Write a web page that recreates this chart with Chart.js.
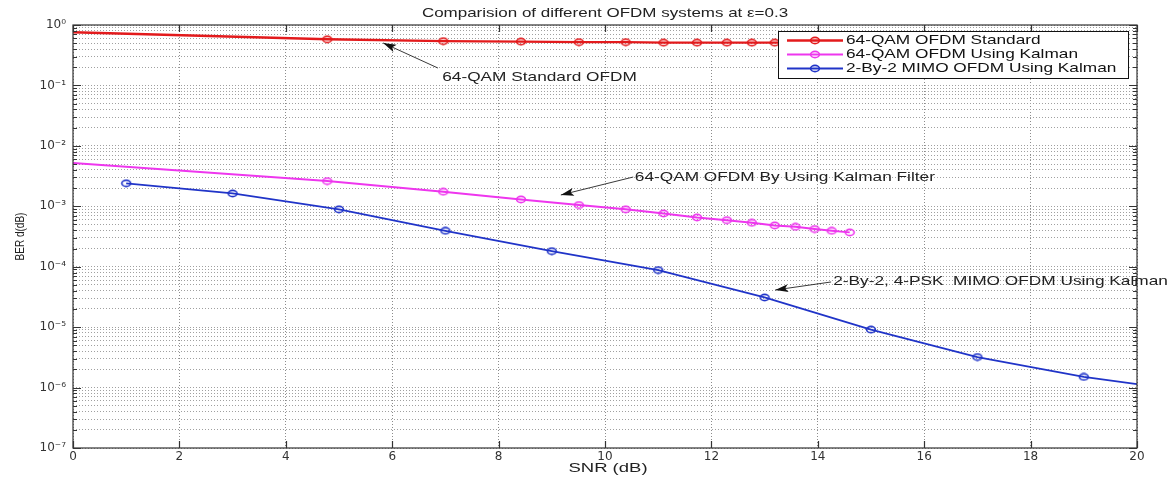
<!DOCTYPE html>
<html>
<head>
<meta charset="utf-8">
<script src="https://cdn.jsdelivr.net/npm/chart.js@4/dist/chart.umd.min.js"></script>
<style>
  html, body { margin: 0; padding: 0; background: #fff; }
  #wrap { width: 1175px; height: 478px; }
</style>
</head>
<body>
<div id="wrap"><canvas id="myChart" width="1175" height="478"></canvas></div>
<script>
// values
var snrKalman = [0, 4.78, 6.96, 8.42, 9.51, 10.39, 11.1, 11.73, 12.29, 12.76, 13.19, 13.58, 13.94, 14.26, 14.6];
var berStandard = [0.76, 0.58, 0.54, 0.53, 0.52, 0.52, 0.51, 0.51, 0.51, 0.51, 0.51, 0.51, 0.51, 0.51, 0.51];
var berKalman = [5.2e-3, 2.61e-3, 1.74e-3, 1.30e-3, 1.05e-3, 8.9e-4, 7.6e-4, 6.55e-4, 5.9e-4, 5.33e-4, 4.83e-4, 4.58e-4, 4.2e-4, 3.93e-4, 3.7e-4];
var snrMimo = [1, 3, 5, 7, 9, 11, 13, 15, 17, 19, 20];
var berMimo = [2.4e-3, 1.63e-3, 8.9e-4, 3.93e-4, 1.81e-4, 8.8e-5, 3.1e-5, 9.1e-6, 3.2e-6, 1.5e-6, 1.14e-6];

var seriesLabels = ['64-QAM OFDM Standard', '64-QAM OFDM Using Kalman', '2-By-2 MIMO OFDM Using Kalman'];
var xTicks = [0, 2, 4, 6, 8, 10, 12, 14, 16, 18, 20];
var yDecades = [-7, -6, -5, -4, -3, -2, -1, 0];

// text arrows: [text, headX, headY, tailX, tailY, textX, textY] in data units
var notes = [
  ['64-QAM Standard OFDM', 5.83, 0.504, 6.86, 0.194, 6.94, 0.133],
  ['64-QAM OFDM By Using Kalman Filter', 9.17, 1.54e-3, 10.53, 3.05e-3, 10.56, 2.94e-3],
  ['2-By-2, 4-PSK  MIMO OFDM Using Kalman', 13.2, 4.12e-5, 14.25, 5.59e-5, 14.29, 5.59e-5]
];

const SX = 1.37; // the picture is wider than tall, text looks stretched
const FONT = '"Liberation Sans", Arial, sans-serif';
const colors = ['#e31a1c', '#ee36ee', '#2034c8'];

const sup = {'0':'⁰','1':'¹','2':'²','3':'³','4':'⁴','5':'⁵','6':'⁶','7':'⁷','8':'⁸','9':'⁹','-':'⁻'};
const toSup = s => String(s).split('').map(c => sup[c]).join('');

var yTickValues = [];
yDecades.forEach(e => {
  for (let k = 1; k <= 9; k++) {
    if (e === 0 && k > 1) break;
    yTickValues.push(k * Math.pow(10, e));
  }
});
const isPow10 = v => Math.abs(Math.log10(v) - Math.round(Math.log10(v))) < 1e-6;

const ring = (color) => {
  const c = document.createElement('canvas');
  c.width = 12; c.height = 9;
  const g = c.getContext('2d');
  g.strokeStyle = color; g.lineWidth = 1.6;
  g.beginPath(); g.ellipse(6, 4.5, 4.4, 3.1, 0, 0, Math.PI * 2); g.stroke();
  return c;
};
const rings = colors.map(ring);

const sText = (ctx, str, x, y, size, align, color) => {
  ctx.save();
  ctx.font = size + 'px ' + FONT;
  ctx.fillStyle = color || '#222';
  ctx.textBaseline = 'middle';
  ctx.textAlign = 'left';
  const w = ctx.measureText(str).width * SX;
  const left = align === 'center' ? x - w / 2 : (align === 'right' ? x - w : x);
  ctx.translate(left, y);
  ctx.scale(SX, 1);
  ctx.fillText(str, 0, 0);
  ctx.restore();
};

const pts = (xs, ys) => xs.map((x, i) => ({x: x, y: ys[i]}));

const data = {
  datasets: [
    {
      label: seriesLabels[0],
      data: pts(snrKalman, berStandard),
      borderColor: colors[0],
      borderWidth: 2.4,
      pointStyle: rings[0],
      pointRadius: c => c.dataIndex === 0 ? 0 : 4
    },
    {
      label: seriesLabels[1],
      data: pts(snrKalman, berKalman),
      borderColor: colors[1],
      borderWidth: 2,
      pointStyle: rings[1],
      pointRadius: c => c.dataIndex === 0 ? 0 : 4
    },
    {
      label: seriesLabels[2],
      data: pts(snrMimo, berMimo),
      borderColor: colors[2],
      borderWidth: 1.8,
      pointStyle: rings[2],
      pointRadius: c => c.dataIndex === snrMimo.length - 1 ? 0 : 4
    }
  ]
};

// box, inward ticks, legend, arrows and texts
const matlabLook = {
  id: 'matlabLook',
  afterDatasetsDraw(chart) {
    const ctx = chart.ctx;
    const a = chart.chartArea;
    const xs = chart.scales.x, ys = chart.scales.y;
    ctx.save();
    ctx.strokeStyle = '#333';
    ctx.lineWidth = 1.2;
    ctx.strokeRect(a.left, a.top, a.right - a.left, a.bottom - a.top);
    ctx.beginPath();
    xTicks.forEach(v => {
      const px = Math.round(xs.getPixelForValue(v)) + 0.5;
      ctx.moveTo(px, a.bottom); ctx.lineTo(px, a.bottom - 7);
      ctx.moveTo(px, a.top); ctx.lineTo(px, a.top + 7);
    });
    yTickValues.forEach(v => {
      const py = Math.round(ys.getPixelForValue(v)) + 0.5;
      const len = isPow10(v) ? 8 : 4;
      ctx.moveTo(a.left, py); ctx.lineTo(a.left + len, py);
      ctx.moveTo(a.right, py); ctx.lineTo(a.right - len, py);
    });
    ctx.stroke();

    // arrows
    notes.forEach(n => {
      const hx = xs.getPixelForValue(n[1]), hy = ys.getPixelForValue(n[2]);
      const tx = xs.getPixelForValue(n[3]), ty = ys.getPixelForValue(n[4]);
      const ang = Math.atan2(hy - ty, hx - tx);
      ctx.strokeStyle = '#222';
      ctx.lineWidth = 0.9;
      ctx.beginPath(); ctx.moveTo(tx, ty); ctx.lineTo(hx, hy); ctx.stroke();
      ctx.fillStyle = '#111';
      ctx.beginPath();
      ctx.moveTo(hx, hy);
      ctx.lineTo(hx - 13 * Math.cos(ang) + 4 * Math.sin(ang), hy - 13 * Math.sin(ang) - 4 * Math.cos(ang));
      ctx.lineTo(hx - 10 * Math.cos(ang), hy - 10 * Math.sin(ang));
      ctx.lineTo(hx - 13 * Math.cos(ang) - 4 * Math.sin(ang), hy - 13 * Math.sin(ang) + 4 * Math.cos(ang));
      ctx.closePath(); ctx.fill();
      sText(ctx, n[0], xs.getPixelForValue(n[5]), ys.getPixelForValue(n[6]), 12.6, 'left', '#222');
    });

    // legend
    const lw = 350, lh = 47;
    const lx = a.right - 9 - lw, ly = a.top + 6;
    ctx.fillStyle = '#fff';
    ctx.fillRect(lx, ly, lw, lh);
    ctx.strokeStyle = '#111';
    ctx.lineWidth = 1;
    ctx.strokeRect(lx + 0.5, ly + 0.5, lw, lh);
    chart.data.datasets.forEach((ds, i) => {
      const yy = ly + 9.5 + i * 14;
      ctx.strokeStyle = ds.borderColor;
      ctx.lineWidth = ds.borderWidth;
      ctx.beginPath(); ctx.moveTo(lx + 9, yy); ctx.lineTo(lx + 65, yy); ctx.stroke();
      ctx.drawImage(rings[i], lx + 37 - 6, yy - 4.5);
      sText(ctx, ds.label, lx + 68, yy, 12.6, 'left', '#111');
    });
    ctx.restore();
  },
  afterDraw(chart) {
    const ctx = chart.ctx;
    const a = chart.chartArea;
    sText(ctx, 'Comparision of different OFDM systems at ε=0.3', (a.left + a.right) / 2, 14, 12.4, 'center', '#222');
    sText(ctx, 'SNR (dB)', (a.left + a.right) / 2 + 3, 468, 13.5, 'center', '#222');
    ctx.save();
    ctx.translate(20, (a.top + a.bottom) / 2);
    ctx.rotate(-Math.PI / 2);
    ctx.scale(1, 1.3);
    ctx.font = '10px ' + FONT;
    ctx.fillStyle = '#222';
    ctx.textAlign = 'center';
    ctx.textBaseline = 'middle';
    ctx.fillText('BER d(dB)', 0, 0);
    ctx.restore();
  }
};

const tickFont = { family: '"DejaVu Sans", sans-serif', size: 12 };

const config = {
  type: 'line',
  data: data,
  options: {
    responsive: false,
    animation: false,
    layout: { padding: { top: 25, right: 38, left: 0, bottom: 0 } },
    plugins: {
      legend: { display: false },
      title: { display: false },
      tooltip: { enabled: false }
    },
    elements: { line: { tension: 0 } },
    scales: {
      x: {
        type: 'linear',
        min: 0, max: 20,
        afterBuildTicks: s => { s.ticks = xTicks.map(v => ({value: v})); },
        afterFit: s => { s.height = 30; },
        ticks: { font: tickFont, color: '#333', padding: 2 },
        grid: { color: '#8c8c8c', lineWidth: 1, drawTicks: false },
        border: { display: false, dash: [1, 2] }
      },
      y: {
        type: 'logarithmic',
        min: 1e-7, max: 1,
        afterBuildTicks: s => { s.ticks = yTickValues.map(v => ({value: v})); },
        afterFit: s => { s.width = 73; },
        ticks: {
          autoSkip: false,
          font: tickFont,
          color: '#333',
          padding: 7,
          callback: v => isPow10(v) ? '10' + toSup(Math.round(Math.log10(v))) : ''
        },
        grid: { color: '#a0a0a0', lineWidth: 1, drawTicks: false },
        border: { display: false, dash: [1, 2] }
      }
    }
  },
  plugins: [matlabLook]
};

// render init block
const myChart = new Chart(document.getElementById('myChart'), config);
</script>
</body>
</html>
